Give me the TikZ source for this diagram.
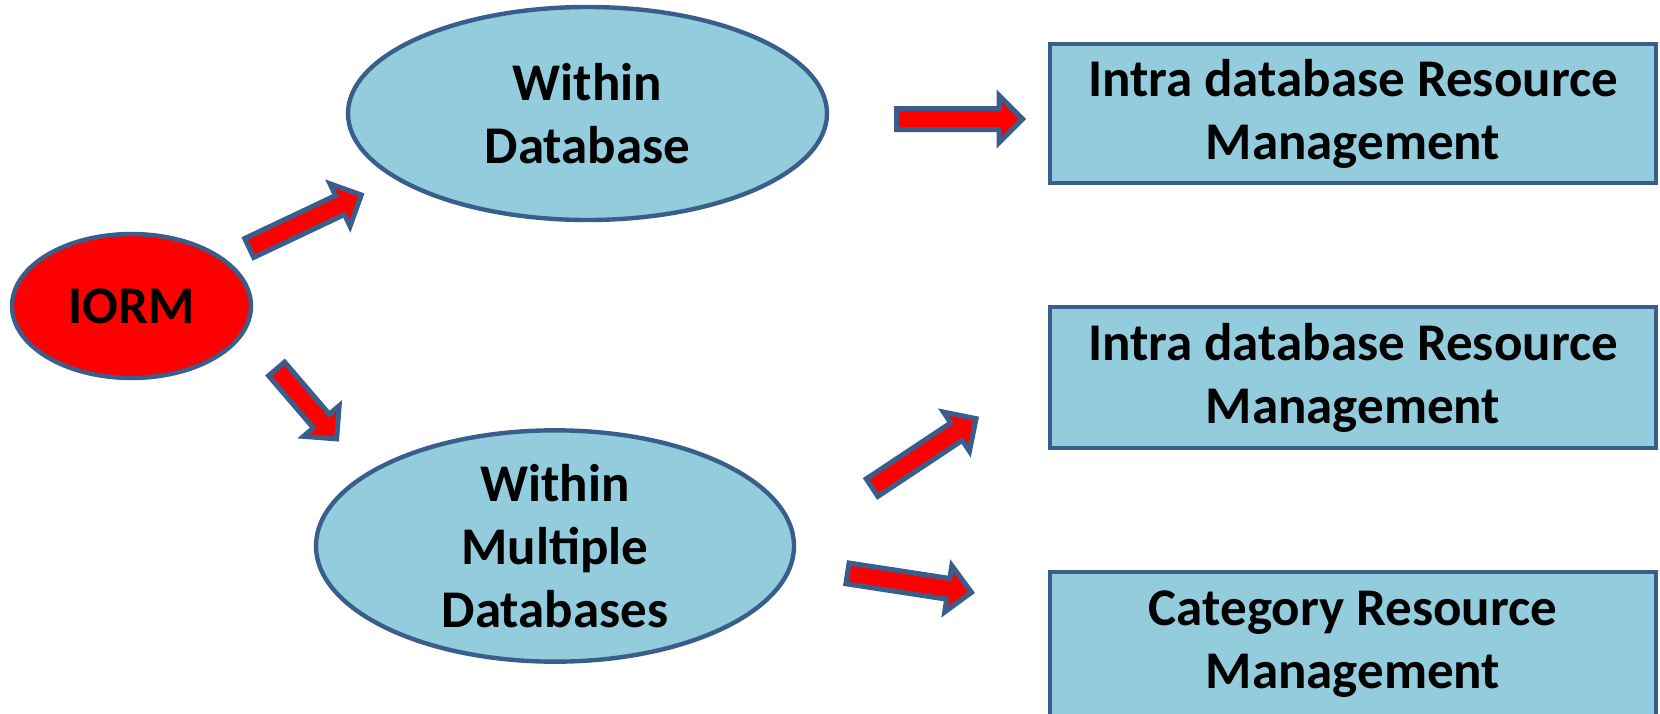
\documentclass[tikz,border=0pt]{standalone}
\usepackage{fontspec}
\setmainfont{Carlito}
\usetikzlibrary{shapes.geometric,shapes.arrows,calc}
\definecolor{edgeblue}{HTML}{3A5E8C}
\definecolor{lightaqua}{HTML}{93CDDD}
\definecolor{pureRed}{HTML}{FF0000}
\tikzset{
  lbl/.style={font=\fontsize{26.5}{31.5}\selectfont\bfseries, align=center, text=black},
  oval/.style={ellipse, draw=edgeblue, line width=2.2pt, inner sep=0pt, lbl},
  boxnode/.style={rectangle, draw=edgeblue, line width=2pt, fill=lightaqua, inner sep=0pt, lbl},
  barrow/.style={single arrow, draw=edgeblue, fill=pureRed, line width=2.5pt,
    inner xsep=0pt, inner ysep=4pt, single arrow head extend=6.5pt,
    single arrow tip angle=90, anchor=tail}
}
\newcommand\blockarrow[2]{%
  \path let \p1=($(#2)-(#1)$), \n1={atan2(\y1,\x1)}, \n2={veclen(\x1,\y1)} in
    node[barrow, minimum height=\n2, rotate=\n1] at (#1) {};
}
\begin{document}
\begin{tikzpicture}[x=0.5pt,y=-0.5pt]
\useasboundingbox (0,0) rectangle (1660,713);
\clip (0,0) rectangle (1660,713);
% ovals
\node[oval, fill=pureRed, minimum width=119.5pt, minimum height=72pt] (iorm) at (131.5,306) {IORM};
\node[oval, fill=lightaqua, minimum width=239.5pt, minimum height=106.5pt] (wd) at (587.5,113.5) {Within\\Database};
\node[oval, fill=lightaqua, minimum width=239pt, minimum height=100.5pt] (wmd) at (555,546) {Within\\Multiple\\Databases};
% boxes
\node[boxnode, minimum width=303pt, minimum height=69.5pt] (b1) at (1353,113.5) {Intra database Resource\\Management};
\node[boxnode, minimum width=303pt, minimum height=70.5pt] (b2) at (1353,377.5) {Intra database Resource\\Management};
\node[boxnode, minimum width=303pt, minimum height=76pt] (b3) at (1353,648) {};
\node[lbl] (b3t) at (1353,644) {Category Resource\\Management};
% arrow end points
\coordinate (a1s) at (247,249);  \coordinate (a1e) at (359,196);
\coordinate (a2s) at (275,367);  \coordinate (a2e) at (335,437);
\coordinate (a3s) at (894,119);  \coordinate (a3e) at (1020,119);
\coordinate (a4s) at (870,489);  \coordinate (a4e) at (974,420);
\coordinate (a5s) at (845,573);  \coordinate (a5e) at (969,592);
\blockarrow{a1s}{a1e}
\blockarrow{a2s}{a2e}
\blockarrow{a3s}{a3e}
\blockarrow{a4s}{a4e}
\blockarrow{a5s}{a5e}
\end{tikzpicture}
\end{document}
